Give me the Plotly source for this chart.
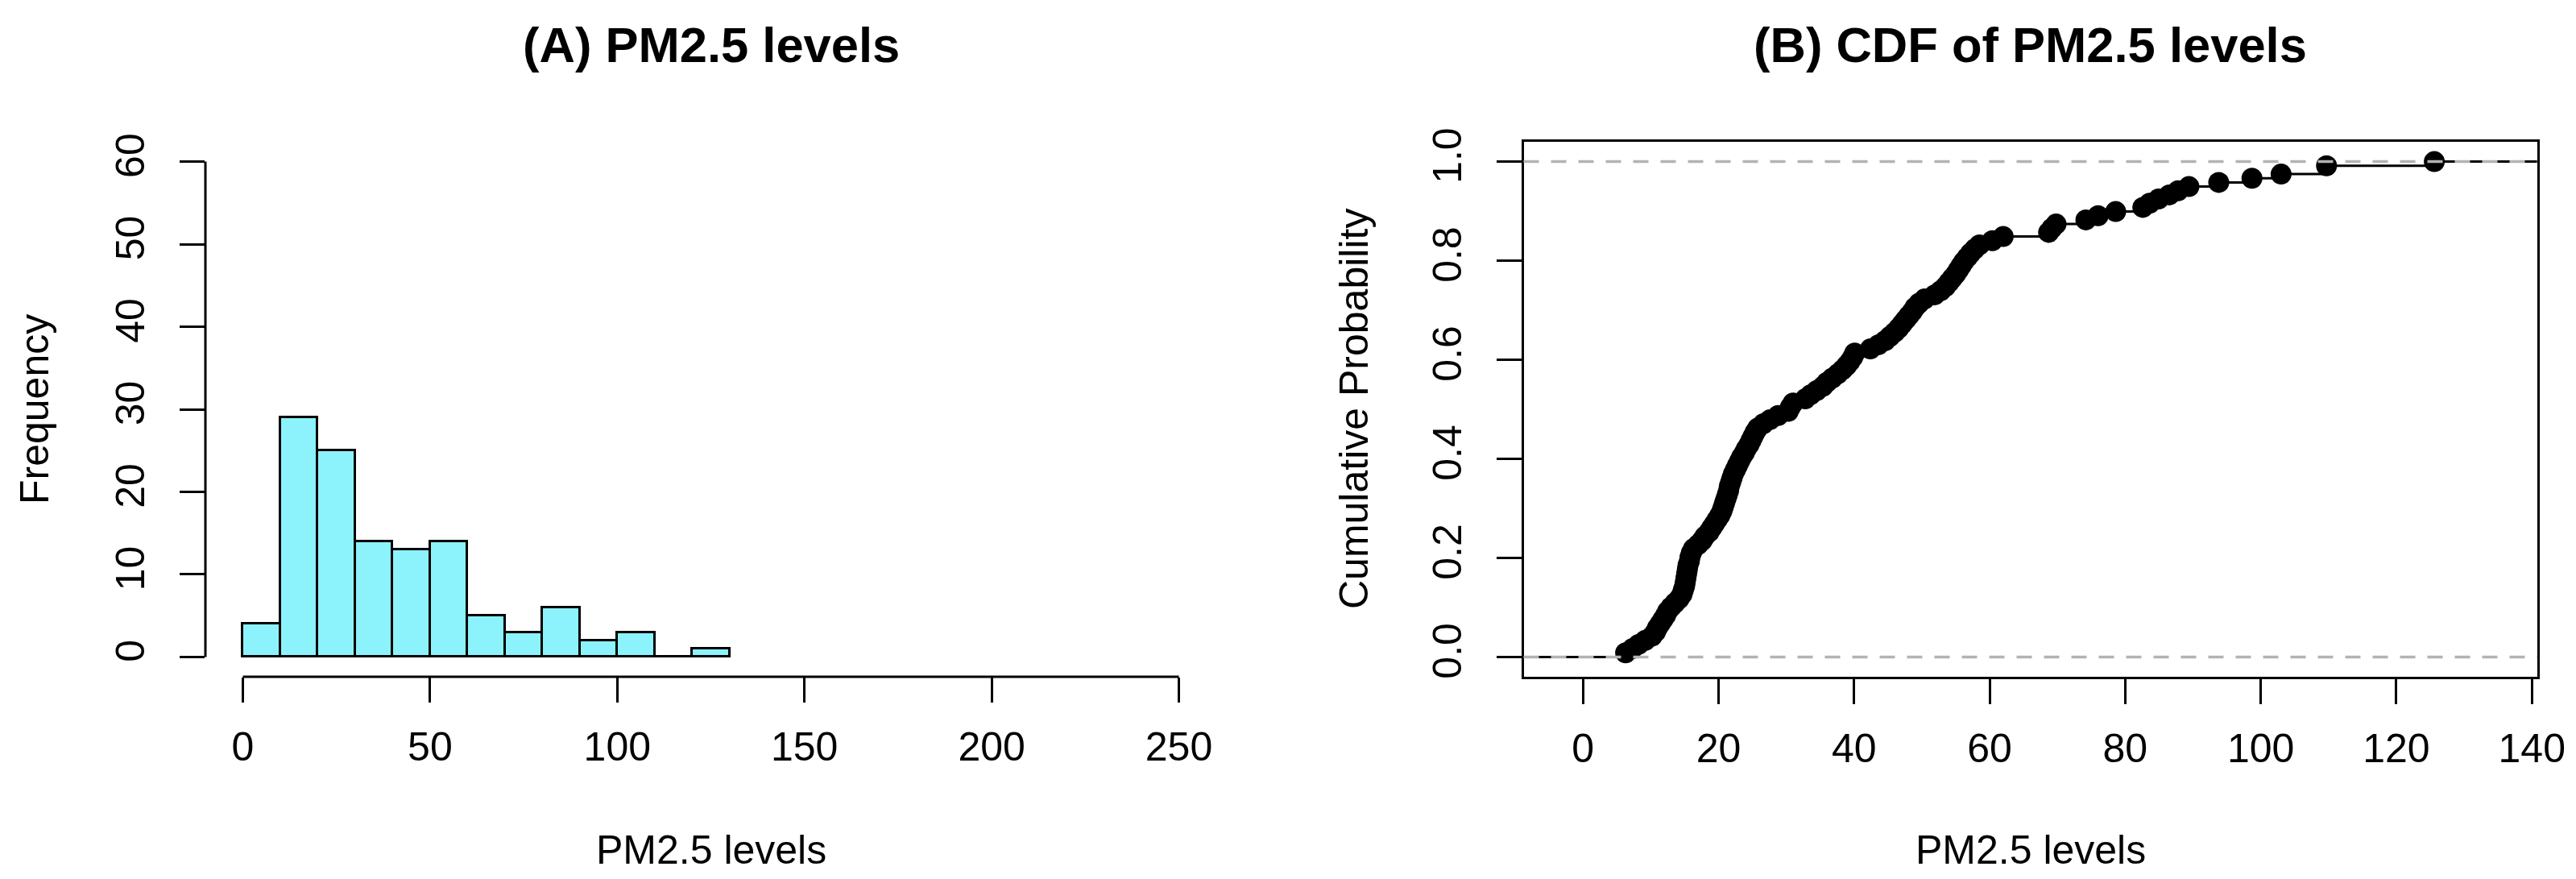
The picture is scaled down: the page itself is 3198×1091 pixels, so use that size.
import numpy as np
import plotly.graph_objects as go

# ---------------- data ----------------
bin_left = [0, 10, 20, 30, 40, 50, 60, 70, 80, 90, 100, 110, 120]
bin_counts = [4, 29, 25, 14, 13, 14, 5, 3, 6, 2, 3, 0, 1]
bin_width = 10

pm25 = [
    6.3, 7.3, 8.2, 9.2,
    10.2, 10.7, 11.0, 11.4, 11.8, 12.2, 12.5, 13.0, 13.6, 14.2, 14.6, 14.8, 15.0, 15.1,
    15.2, 15.3, 15.4, 15.5, 15.7, 15.8, 16.0, 16.3, 17.0, 17.6, 18.0, 18.6, 19.0, 19.4, 19.8,
    20.2, 20.5, 20.7, 20.9, 21.1, 21.3, 21.5, 21.6, 21.8, 22.0, 22.2, 22.5, 22.8, 23.1,
    23.4, 23.8, 24.1, 24.5, 24.8, 25.1, 25.4, 25.8, 26.6, 27.6, 28.8,
    30.3, 30.6, 31.0, 32.8, 33.6, 34.5, 35.4, 36.0, 36.8, 37.6, 38.3, 38.9, 39.4, 39.8,
    40.1, 42.4, 43.6, 44.6, 45.3, 46.0, 46.6, 47.1, 47.6, 48.1, 48.6, 49.0, 49.6,
    50.4, 51.9, 52.8, 53.5, 54.0, 54.5, 55.0, 55.4, 55.8, 56.2, 56.7, 57.2, 57.8, 58.5,
    60.4, 62.0, 68.7, 69.2, 69.8,
    74.2, 76.0, 78.6,
    82.6, 83.6, 84.9, 86.5, 87.8, 89.4,
    93.8, 98.7,
    103.0, 109.7, 109.7,
    125.6,
]

hist_xticks = [0, 50, 100, 150, 200, 250]
hist_yticks = [0, 10, 20, 30, 40, 50, 60]
cdf_xticks = [0, 20, 40, 60, 80, 100, 120, 140]
cdf_yticks = [0.0, 0.2, 0.4, 0.6, 0.8, 1.0]

title_a = "(A) PM2.5 levels"
title_b = "(B) CDF of PM2.5 levels"
xlabel = "PM2.5 levels"
ylabel_a = "Frequency"
ylabel_b = "Cumulative Probability"

# ---------------- layout geometry ----------------
W, H = 3198, 1091
FONT = "Liberation Sans, Arial, Helvetica, sans-serif"
TICKFS = 50
TITLEFS = 61.5

plot_top, plot_bot = 176, 840
ydom = [(H - plot_bot) / H, (H - plot_top) / H]
xdom1 = [255 / W, 1510 / W]
xdom2 = [1891.5 / W, 3150 / W]
x1_range = [-10, 260]
y1_range = [-2.4, 62.4]
x2_range = [-8.75, 140.8]
y2_range = [-0.04, 1.04]

fig = go.Figure()

centers = [b + bin_width / 2 for b in bin_left]
fig.add_trace(go.Bar(
    x=centers, y=bin_counts, width=[bin_width] * len(bin_left),
    marker=dict(color="#8CF3FC", line=dict(color="black", width=3)),
    xaxis="x", yaxis="y", showlegend=False,
))

vals = np.sort(np.array(pm25))
u, cnt = np.unique(vals, return_counts=True)
F = np.cumsum(cnt) / len(vals)
sx, sy = [x2_range[0], u[0], None], [0, 0, None]
for i in range(len(u)):
    xe = u[i + 1] if i + 1 < len(u) else x2_range[1]
    sx += [u[i], xe, None]
    sy += [F[i], F[i], None]
fig.add_trace(go.Scatter(x=sx, y=sy, mode="lines", line=dict(color="black", width=3),
                         xaxis="x2", yaxis="y2", showlegend=False, hoverinfo="skip"))
fig.add_trace(go.Scatter(x=u, y=F, mode="markers",
                         marker=dict(color="black", size=26, line=dict(width=0)),
                         xaxis="x2", yaxis="y2", showlegend=False))

axfont = dict(family=FONT, size=TICKFS, color="black")
common = dict(showgrid=False, zeroline=False, ticks="outside", ticklen=31, tickwidth=3,
              tickcolor="black", tickfont=axfont, fixedrange=True, automargin=False)

fig.update_layout(
    width=W, height=H, autosize=False, margin=dict(l=0, r=0, t=0, b=0, pad=0),
    paper_bgcolor="white", plot_bgcolor="white", bargap=0,
    font=dict(family=FONT, color="black"),
    xaxis=dict(domain=xdom1, range=x1_range, tickvals=hist_xticks, showline=False,
               anchor="y", ticklabelstandoff=12, **common),
    yaxis=dict(domain=ydom, range=y1_range, tickvals=hist_yticks, showline=False,
               anchor="x", tickangle=-90, ticklabelstandoff=24, **common),
    xaxis2=dict(domain=xdom2, range=x2_range, tickvals=cdf_xticks, showline=True,
                linecolor="black", linewidth=3, mirror=True, anchor="y2",
                ticklabelstandoff=12, **common),
    yaxis2=dict(domain=ydom, range=y2_range, tickvals=cdf_yticks, tickformat=".1f",
                showline=True, linecolor="black", linewidth=3, mirror=True, anchor="x2",
                tickangle=-90, ticklabelstandoff=24, **common),
)

fig.add_shape(type="line", xref="x", yref="y domain", x0=hist_xticks[0], x1=hist_xticks[-1],
              y0=0, y1=0, line=dict(color="black", width=3))
fig.add_shape(type="line", xref="x domain", yref="y", x0=0, x1=0,
              y0=hist_yticks[0], y1=hist_yticks[-1], line=dict(color="black", width=3))

for yv in (0, 1):
    fig.add_shape(type="line", xref="x2 domain", yref="y2", x0=0, x1=1, y0=yv, y1=yv,
                  layer="above", line=dict(color="#B3B3B3", width=3.5, dash="19px,15px"))

def ann(text, x, y, size, bold=False, angle=0):
    fig.add_annotation(text=f"<b>{text}</b>" if bold else text, x=x / W, y=1 - y / H,
                       xref="paper", yref="paper", showarrow=False, textangle=angle,
                       xanchor="center", yanchor="middle",
                       font=dict(family=FONT, size=size, color="black"))

ann(title_a, (255 + 1510) / 2, 55, TITLEFS, bold=True)
ann(title_b, (1891.5 + 3150) / 2, 55, TITLEFS, bold=True)
ann(xlabel, (255 + 1510) / 2, 1055, TICKFS)
ann(xlabel, (1891.5 + 3150) / 2, 1055, TICKFS)
ann(ylabel_a, 43, (plot_top + plot_bot) / 2, TICKFS, angle=-90)
ann(ylabel_b, 1681, (plot_top + plot_bot) / 2, TICKFS, angle=-90)

fig.write_html(
    "out.html", config={"displayModeBar": False, "responsive": False},
    post_script=("document.documentElement.style.margin='0px';"
                 "document.documentElement.style.overflow='hidden';"
                 "document.body.style.margin='0px';"
                 "document.body.style.overflow='hidden';"),
)
